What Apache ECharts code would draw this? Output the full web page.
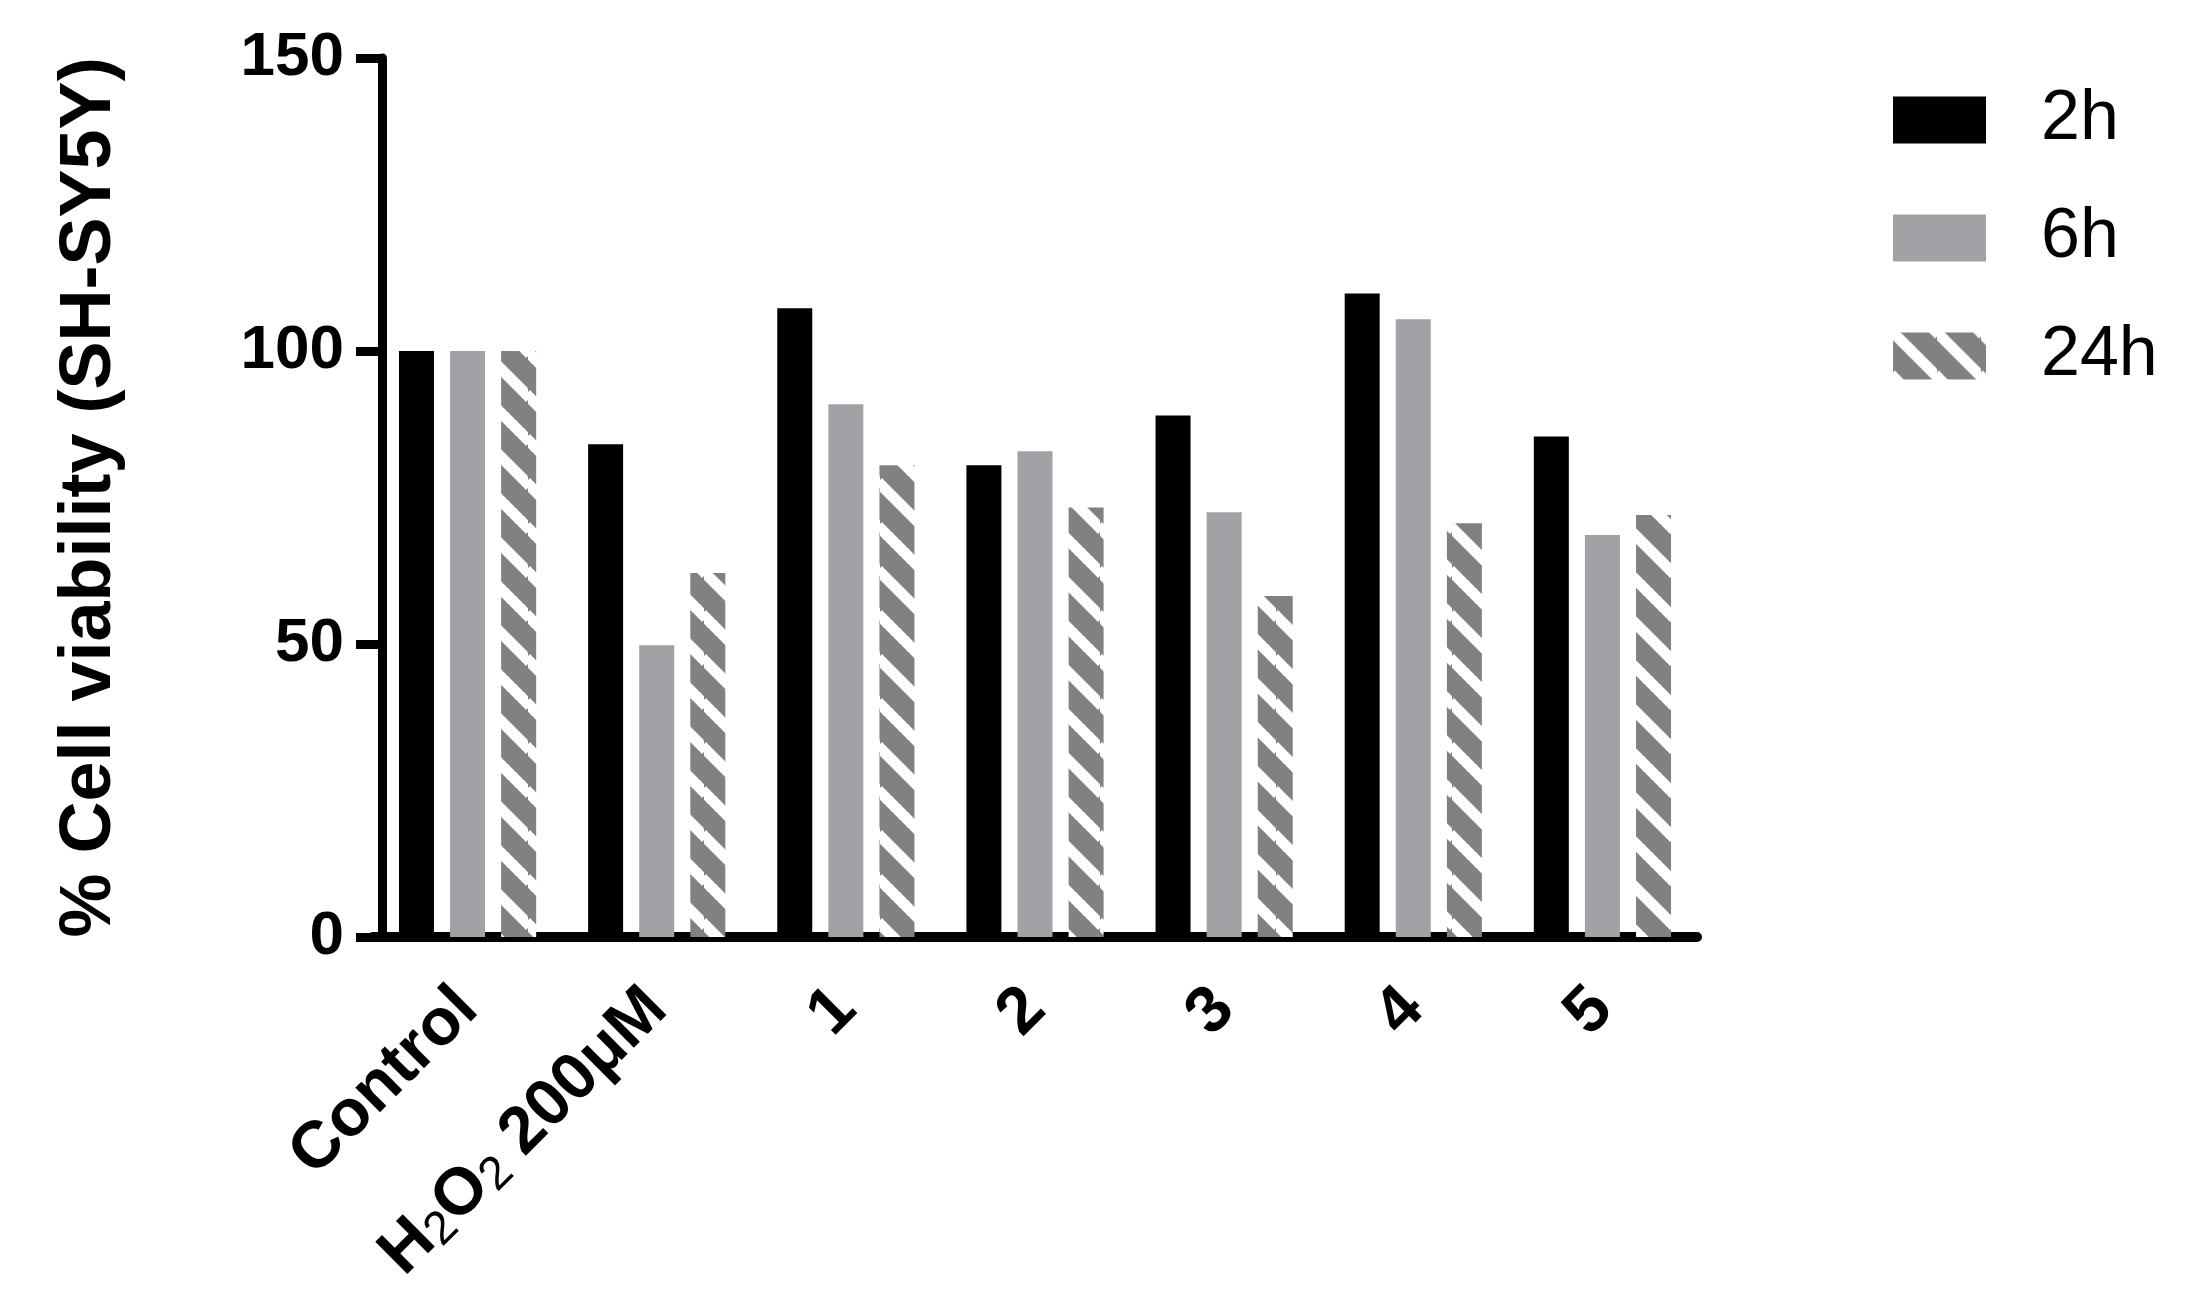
<!DOCTYPE html>
<html>
<head>
<meta charset="utf-8">
<script src="https://cdn.jsdelivr.net/npm/echarts@6/dist/echarts.min.js"></script>
<style>
html,body{margin:0;padding:0;background:#fff;}
#chart{width:2193px;height:1315px;}
</style>
</head>
<body>
<div id="chart"></div>
<script>
// ---- data ----
var categories = ['Control', 'H₂O₂ 200μM', '1', '2', '3', '4', '5'];
var seriesNames = ['2h', '6h', '24h'];
var values2h  = [100, 84.1, 107.3, 80.5, 89.0, 109.8, 85.4];
var values6h  = [100, 49.8, 90.9, 82.9, 72.5, 105.4, 68.6];
var values24h = [100, 62.1, 80.5, 73.3, 58.2, 70.6, 72.0];
var yTicks = [0, 50, 100, 150];

// ---- hatch pattern ----
function makeHatch() {
  var P = 44;
  var c = document.createElement('canvas');
  c.width = P; c.height = P;
  var ctx = c.getContext('2d');
  ctx.fillStyle = '#818181';
  ctx.fillRect(0, 0, P, P);
  ctx.strokeStyle = '#ffffff';
  ctx.lineWidth = 11;
  [-P, 0, P].forEach(function (o) {
    ctx.beginPath();
    ctx.moveTo(-2, o - 2);
    ctx.lineTo(P + 2, o + P + 2);
    ctx.stroke();
  });
  return c;
}
var hatch = { image: makeHatch(), repeat: 'repeat' };

var FONT = '"Liberation Sans", Arial, Helvetica, sans-serif';
var chart = echarts.init(document.getElementById('chart'));

function catLabel(v) {
  if (v.indexOf('H₂O₂') === 0) {
    return 'H{sub|2}O{sub|2} ' + v.replace('H₂O₂ ', '');
  }
  return v;
}

chart.setOption({
  backgroundColor: '#ffffff',
  animation: false,
  textStyle: { fontFamily: FONT },
  grid: { left: 373, right: 496, top: 58, bottom: 378 },
  legend: {
    left: 1893, top: 85, orient: 'vertical',
    padding: 0,
    itemWidth: 93, itemHeight: 47, itemGap: 48,
    selectedMode: false,
    icon: 'rect',
    textStyle: { fontFamily: FONT, fontSize: 70, color: '#000', lineHeight: 47, padding: [0, 0, 0, 50] },
    data: seriesNames
  },
  xAxis: {
    type: 'category',
    data: categories,
    axisLine: { lineStyle: { color: '#000', width: 10 } },
    axisTick: { alignWithLabel: true, length: 26, lineStyle: { color: '#000', width: 9 } },
    axisLabel: {
      rotate: 45, interval: 0, margin: 62,
      fontFamily: FONT, fontSize: 66, fontWeight: 'bold', color: '#000',
      formatter: catLabel,
      rich: {
        sub: { fontFamily: FONT, fontSize: 47, fontWeight: 'normal', color: '#000', padding: [22, 0, 0, 0] }
      }
    }
  },
  yAxis: {
    type: 'value',
    min: yTicks[0], max: yTicks[yTicks.length - 1], interval: yTicks[1] - yTicks[0],
    offset: -9,
    name: '% Cell viability (SH-SY5Y)',
    nameLocation: 'middle',
    nameGap: 256,
    nameTextStyle: { fontFamily: FONT, fontSize: 72, fontWeight: 'bold', color: '#000' },
    axisLine: { show: true, lineStyle: { color: '#000', width: 9 } },
    axisTick: { show: true, length: 26, lineStyle: { color: '#000', width: 9 } },
    splitLine: { show: false },
    axisLabel: { margin: 38, fontFamily: FONT, fontSize: 62, fontWeight: 'bold', color: '#000' }
  },
  series: [
    { name: seriesNames[0], type: 'bar', data: values2h, barWidth: 35, barGap: '46%', itemStyle: { color: '#000000' } },
    { name: seriesNames[1], type: 'bar', data: values6h, barWidth: 35, barGap: '46%', itemStyle: { color: '#a2a1a6' } },
    { name: seriesNames[2], type: 'bar', data: values24h, barWidth: 35, barGap: '46%', itemStyle: { color: hatch } }
  ]
});
</script>
</body>
</html>
